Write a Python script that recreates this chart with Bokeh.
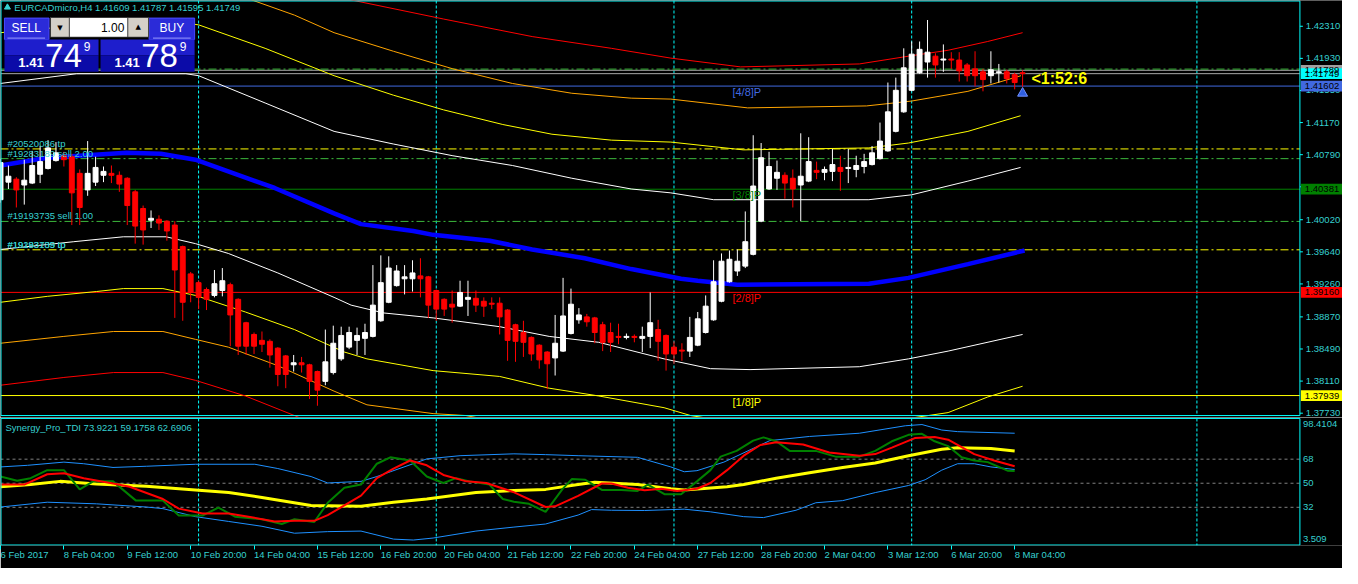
import numpy as np
from bokeh.plotting import figure
from bokeh.models import Range1d, FixedTicker, Label, ColumnDataSource
from bokeh.layouts import column
from bokeh.embed import file_html
from bokeh.resources import INLINE
from bokeh.core.properties import value

# ---------------- DATA ----------------
symbol_title = "EURCADmicro,H4  1.41609 1.41787 1.41595 1.41749"
tdi_title = "Synergy_Pro_TDI 73.9221 59.1758 62.6906"

opens = [1.40257, 1.40465, 1.40500, 1.40431, 1.40454, 1.40558, 1.40627, 1.40720, 1.40777, 1.40766,
         1.40569, 1.40373, 1.40465, 1.40546, 1.40569, 1.40546, 1.40511, 1.40350, 1.40153, 1.40014,
         1.40026, 1.40003, 1.39957, 1.39702, 1.39379, 1.39275, 1.39194, 1.39124, 1.39182, 1.39251,
         1.39078, 1.38801, 1.38662, 1.38592, 1.38581, 1.38500, 1.38408, 1.38303, 1.38327, 1.38303,
         1.38223, 1.38107, 1.38211, 1.38373, 1.38512, 1.38592, 1.38616, 1.38639, 1.38824, 1.39043,
         1.39240, 1.39321, 1.39321, 1.39355, 1.39344, 1.39182, 1.39078, 1.39020, 1.38997, 1.39078,
         1.39090, 1.39055, 1.39032, 1.39032, 1.38951, 1.38777, 1.38685, 1.38627, 1.38535, 1.38454,
         1.38384, 1.38465, 1.38673, 1.38835, 1.38870, 1.38858, 1.38777, 1.38685, 1.38639, 1.38627,
         1.38639, 1.38616, 1.38639, 1.38720, 1.38650, 1.38512, 1.38477, 1.38465, 1.38535, 1.38685,
         1.38835, 1.39055, 1.39286, 1.39413, 1.39471, 1.39610, 1.40003, 1.40384, 1.40511, 1.40546,
         1.40511, 1.40431, 1.40477, 1.40604, 1.40581, 1.40592, 1.40639, 1.40627, 1.40615, 1.40650,
         1.40673, 1.40743, 1.40835, 1.41066, 1.41297, 1.41552, 1.41760, 1.41887, 1.41956, 1.41910,
         1.41922, 1.41910, 1.41852, 1.41806, 1.41771, 1.41725, 1.41760, 1.41771, 1.41737, 1.41760]
highs = [1.40743, 1.40662, 1.40523, 1.40731, 1.40835, 1.40893, 1.40962, 1.40939, 1.40824, 1.40800,
         1.40615, 1.40951, 1.40766, 1.40650, 1.40662, 1.40592, 1.40523, 1.40373, 1.40188, 1.40130,
         1.40072, 1.40014, 1.40003, 1.39714, 1.39402, 1.39298, 1.39217, 1.39425, 1.39448, 1.39275,
         1.39090, 1.38812, 1.38685, 1.38697, 1.38604, 1.38512, 1.38419, 1.38419, 1.38396, 1.38315,
         1.38234, 1.38720, 1.38766, 1.38754, 1.38754, 1.38743, 1.38789, 1.39483, 1.39598, 1.39587,
         1.39483, 1.39483, 1.39540, 1.39564, 1.39355, 1.39194, 1.39090, 1.39182, 1.39298, 1.39298,
         1.39182, 1.39101, 1.39101, 1.39101, 1.38962, 1.38789, 1.38824, 1.38639, 1.38546, 1.38465,
         1.38893, 1.39332, 1.39205, 1.38974, 1.38905, 1.38870, 1.38812, 1.38801, 1.38789, 1.38673,
         1.38662, 1.38754, 1.39159, 1.38835, 1.38662, 1.38581, 1.38558, 1.38870, 1.38928, 1.39124,
         1.39540, 1.39621, 1.39656, 1.39668, 1.40118, 1.41020, 1.40928, 1.40824, 1.40720, 1.40581,
         1.40615, 1.41043, 1.40997, 1.40708, 1.40650, 1.40858, 1.40777, 1.40858, 1.40777, 1.40800,
         1.40893, 1.41170, 1.41644, 1.41702, 1.42049, 1.42130, 1.42130, 1.42384, 1.41991, 1.42095,
         1.42003, 1.42003, 1.41875, 1.42014, 1.41806, 1.42014, 1.41864, 1.41795, 1.41760, 1.41787]
lows = [1.40222, 1.40384, 1.40165, 1.40199, 1.40442, 1.40454, 1.40615, 1.40708, 1.40650, 1.39957,
        1.39957, 1.40303, 1.40419, 1.40465, 1.40454, 1.40350, 1.39957, 1.39737, 1.39725, 1.39922,
        1.39899, 1.39772, 1.38858, 1.38824, 1.39043, 1.38962, 1.38951, 1.39101, 1.39113, 1.38523,
        1.38419, 1.38419, 1.38431, 1.38454, 1.38269, 1.38049, 1.38026, 1.38223, 1.38211, 1.37899,
        1.37818, 1.38061, 1.38188, 1.38350, 1.38488, 1.38419, 1.38419, 1.38627, 1.38812, 1.39032,
        1.39228, 1.39136, 1.39170, 1.39101, 1.38858, 1.38824, 1.38881, 1.38801, 1.38986, 1.38881,
        1.38928, 1.38870, 1.38962, 1.38662, 1.38350, 1.38338, 1.38396, 1.38350, 1.38257, 1.38014,
        1.38176, 1.38454, 1.38662, 1.38789, 1.38754, 1.38558, 1.38465, 1.38454, 1.38546, 1.38604,
        1.38569, 1.38454, 1.38500, 1.38350, 1.38234, 1.38315, 1.38350, 1.38396, 1.38523, 1.38673,
        1.38824, 1.39043, 1.39275, 1.39355, 1.39448, 1.39598, 1.39991, 1.40373, 1.40373, 1.40269,
        1.40165, 1.40003, 1.40465, 1.40500, 1.40488, 1.40477, 1.40361, 1.40454, 1.40523, 1.40569,
        1.40662, 1.40731, 1.40824, 1.41054, 1.41286, 1.41540, 1.41748, 1.41702, 1.41702, 1.41771,
        1.41806, 1.41656, 1.41656, 1.41598, 1.41540, 1.41633, 1.41644, 1.41633, 1.41563, 1.41595]
closes = [1.40696, 1.40535, 1.40373, 1.40488, 1.40662, 1.40708, 1.40870, 1.40812, 1.40731, 1.40338,
          1.40165, 1.40569, 1.40639, 1.40592, 1.40546, 1.40442, 1.40188, 1.39945, 1.39899, 1.40037,
          1.39980, 1.39887, 1.39425, 1.39043, 1.39159, 1.39101, 1.39078, 1.39263, 1.39298, 1.38893,
          1.38523, 1.38523, 1.38523, 1.38546, 1.38419, 1.38188, 1.38188, 1.38327, 1.38303, 1.38107,
          1.38003, 1.38338, 1.38558, 1.38650, 1.38685, 1.38650, 1.38685, 1.39009, 1.39275, 1.39448,
          1.39413, 1.39344, 1.39390, 1.39321, 1.39009, 1.38962, 1.38962, 1.38986, 1.39159, 1.39101,
          1.39009, 1.38997, 1.39020, 1.38870, 1.38592, 1.38581, 1.38569, 1.38431, 1.38361, 1.38315,
          1.38558, 1.38881, 1.39020, 1.38893, 1.38812, 1.38685, 1.38569, 1.38569, 1.38627, 1.38639,
          1.38627, 1.38639, 1.38801, 1.38581, 1.38431, 1.38431, 1.38465, 1.38627, 1.38847, 1.38997,
          1.39286, 1.39529, 1.39552, 1.39529, 1.39760, 1.40419, 1.40754, 1.40650, 1.40581, 1.40454,
          1.40384, 1.40535, 1.40708, 1.40581, 1.40615, 1.40673, 1.40592, 1.40639, 1.40662, 1.40708,
          1.40812, 1.40951, 1.41297, 1.41552, 1.41818, 1.41980, 1.42037, 1.42003, 1.41852, 1.41922,
          1.41910, 1.41783, 1.41725, 1.41725, 1.41679, 1.41795, 1.41771, 1.41690, 1.41644, 1.41749]

ma_x = [0, 5.9, 15.9, 20.25, 24.6, 34.6, 42.1, 45.5, 52.1, 54.6, 61.75, 67.1, 73.75, 79.6, 85.9, 88, 93, 109.6, 114.6, 122.1, 129.25]
ma_y = [1.40662, 1.40754, 1.40812, 1.40800, 1.40731, 1.40396, 1.40095, 1.39968, 1.39887, 1.39841, 1.39772,
        1.39668, 1.39564, 1.39436, 1.39321, 1.39298, 1.39251, 1.39263, 1.39332, 1.39494, 1.39656]
white_up_x = [0, 9.6, 23.4, 25, 33.4, 42.1, 49.6, 57.1, 64.6, 72.1, 79.6, 84.6, 90, 109.6, 115, 122.1, 128.75]
white_up_y = [1.41633, 1.41748, 1.41748, 1.41725, 1.41402, 1.41066, 1.40916, 1.40777, 1.40662, 1.40511,
              1.40384, 1.40338, 1.40257, 1.40257, 1.40315, 1.40477, 1.40639]
yellow_up_x = [0, 12.1, 22.1, 25, 33.4, 42.1, 49.6, 55.9, 63.4, 69.6, 77.1, 84.6, 93.75, 109.6, 114.6, 122.1, 128.75]
yellow_up_y = [1.42234, 1.42338, 1.42361, 1.42327, 1.42049, 1.41725, 1.41494, 1.41321, 1.41147, 1.41032,
               1.40962, 1.40939, 1.40847, 1.40870, 1.40928, 1.41066, 1.41251]
orange_up_x = [27.1, 31.9, 37.1, 42.1, 49.6, 57.1, 64.6, 72.1, 79.6, 84.6, 94.3, 109.3, 115, 122.1, 128.8]
orange_up_y = [1.42823, 1.42615, 1.42442, 1.42234, 1.42014, 1.41806, 1.41633, 1.41517, 1.41459, 1.41448,
               1.41344, 1.41367, 1.41425, 1.41540, 1.41725]
red_up_x = [34.6, 44.6, 55.9, 67.1, 77.1, 84.6, 93.4, 108.4, 114.6, 119.6, 124.6, 129]
red_up_y = [1.42881, 1.42615, 1.42396, 1.42188, 1.42049, 1.41933, 1.41829, 1.41864, 1.41956, 1.42026, 1.42130, 1.42234]
white_lo_x = [0, 9.25, 15.5, 20.9, 24.6, 28.75, 35, 42.1, 44.25, 48.4, 54.6, 63, 69.25, 75.5, 83.75, 89.6, 94.6, 108.4, 114.6, 119.6, 129]
white_lo_y = [1.39668, 1.39760, 1.39818, 1.39818, 1.39737, 1.39621, 1.39390, 1.39101, 1.39009, 1.38916, 1.38858,
              1.38754, 1.38639, 1.38569, 1.38373, 1.38257, 1.38246, 1.38280, 1.38373, 1.38465, 1.38662]
yellow_lo_x = [0, 5.9, 12.1, 15.5, 20.5, 24.6, 30.9, 37.1, 43.4, 46.25, 54.6, 63, 69.25, 75.5, 83.75, 87.1, 93.4, 102.1, 112.1, 119.6, 124.6, 129]
yellow_lo_y = [1.39043, 1.39113, 1.39170, 1.39205, 1.39205, 1.39124, 1.38928, 1.38720, 1.38454, 1.38373, 1.38234,
               1.38165, 1.38026, 1.37934, 1.37795, 1.37702, 1.37610, 1.37587, 1.37633, 1.37737, 1.37922, 1.38049]
orange_lo_x = [0, 8, 14.25, 20.5, 24.6, 28.75, 35, 42.1, 46.25, 54.6, 58.75, 69.6, 87.1, 112.1, 129]
orange_lo_y = [1.38558, 1.38639, 1.38697, 1.38697, 1.38604, 1.38512, 1.38292, 1.37991, 1.37829, 1.37725,
               1.37702, 1.37506, 1.37332, 1.37390, 1.37564]
red_lo_x = [0, 8, 14.25, 20.5, 24.6, 30.9, 37.1, 49.6, 87.1, 129]
red_lo_y = [1.38061, 1.38153, 1.38211, 1.38211, 1.38119, 1.37934, 1.37702, 1.37217, 1.36870, 1.37101]

bid_price = 1.41749
ask_price = 1.41789
murrey_prices = [1.41602, 1.40381, 1.39160, 1.37939]
murrey_names = ["[4/8]P", "[3/8]P", "[2/8]P", "[1/8]P"]
trade_prices = [1.41803, 1.40858, 1.40743, 1.40000, 1.39664]
trade_kinds = ["order", "tp", "order", "order", "tp"]
trade_label_prices = [1.40858, 1.40743, 1.40000, 1.39664, 1.39664]
trade_label_texts = ["#20520086 tp", "#19283189 sell 2.00", "#19193735 sell 1.00", "#19193735 tp", "#19283189 tp"]
price_ticks = [1.42310, 1.41930, 1.41550, 1.41170, 1.40790, 1.40410, 1.40020, 1.39640, 1.39260,
               1.38870, 1.38490, 1.38110, 1.37730]
timer_text = "<1:52:6"
sell_price = ("1.41", "74", "9")
buy_price = ("1.41", "78", "9")
lot_text = "1.00"

tdi_up_x = [0, 3.4, 8, 10.5, 14.2, 18.4, 24.6, 32.1, 35, 39.2, 41.3, 45.5, 47.5, 53.8, 58, 64.8, 68.8, 72.9, 80.4, 84.6,
            86.3, 87.9, 91.3, 97.1, 102.1, 108.4, 114.2, 116.3, 118.8, 120.8, 128]
tdi_up_y = [62.2, 63.4, 65.8, 64.6, 61.8, 62.7, 64.2, 64.2, 61.0, 55.0, 50.2, 51.4, 55.0, 68.2, 70.6, 72.0, 71.4, 70.6, 69.4, 62.2,
            58.6, 59.4, 65.8, 81.9, 85.0, 87.4, 93.0, 93.9, 89.8, 88.6, 87.4]
tdi_lo_x = [0, 5.9, 12.1, 18.4, 20.5, 24.6, 28.8, 33, 37.1, 41.3, 45.5, 49.6, 52.1, 54.6, 60, 64.8, 68.8, 72.9, 74.6, 77.1,
            81.3, 86.3, 89.6, 93.8, 96.3, 100.4, 102.9, 106.3, 110.4, 114.6, 116.7, 118.8, 120.8, 122.9, 125, 128]
tdi_lo_y = [32.2, 35.8, 34.6, 32.2, 31.0, 25.0, 21.4, 17.8, 12.6, 13.8, 14.2, 8.2, 7.5, 9.0, 14.2, 17.2, 19.5, 26.2, 30.3, 29.8,
            29.6, 30.6, 28.6, 25.0, 24.3, 29.8, 35.4, 37.0, 43.0, 48.3, 52.6, 59.8, 64.6, 64.6, 62.2, 60.3]
tdi_base_x = [0, 3.8, 7.5, 12.1, 18.4, 24.6, 28.8, 33, 39.2, 45.5, 49.6, 53.8, 60, 64.8, 68.8, 72.9, 75, 80.4, 84.6, 86.3,
              91.7, 93.8, 97.9, 102.1, 106.3, 110.4, 114.6, 118.8, 120.8, 125, 128]
tdi_base_y = [47.4, 49.0, 51.4, 49.5, 47.8, 45.0, 43.0, 39.4, 33.4, 32.7, 35.8, 38.2, 43.0, 44.6, 45.4, 49.0, 50.7, 49.0, 45.9, 45.0,
              47.4, 49.0, 53.8, 57.9, 61.8, 65.1, 70.6, 75.4, 76.6, 75.9, 74.2]
tdi_sig_x = [0, 3, 5.9, 8, 10.5, 14.2, 16.3, 20.5, 22.5, 25.5, 28.8, 31.3, 34.6, 37.1, 39.6, 41.3, 43.4, 45.5, 47.5, 49.6,
             51.7, 53.8, 55.9, 58.8, 61.3, 64.7, 68.8, 70, 72.9, 75.9, 77.1, 79.2, 81.3, 83.4, 85.4, 87.9, 89.6, 91.7, 93.8, 95.9,
             97.9, 101.3, 104.6, 108.4, 110.4, 112.5, 115.4, 117.9, 119.6, 122.9, 125.4, 128]
tdi_sig_y = [49.0, 49.0, 56.7, 57.4, 53.8, 49.8, 47.4, 38.2, 31.0, 27.4, 27.4, 25.0, 21.4, 21.9, 21.9, 26.2, 33.4, 40.7, 53.8, 61.0,
             67.0, 63.4, 56.2, 51.4, 50.2, 43.5, 32.2, 32.7, 40.6, 49.8, 49.8, 46.6, 44.7, 45.9, 44.2, 45.9, 50.2, 59.8, 70.6, 78.6,
             80.7, 79.0, 73.0, 70.6, 71.8, 76.6, 83.8, 84.6, 82.6, 71.8, 67.0, 62.7]
tdi_rsi_x = [0, 2.1, 3.8, 5.9, 8, 10, 11.7, 14.2, 17.1, 20.5, 22.5, 25.5, 27.5, 29.6, 33, 35.5, 37.1, 39.6, 41.3, 43.4,
             45.5, 47.5, 49.2, 51.7, 53.8, 55.9, 57.5, 59.2, 61.7, 63.4, 64.8, 66.7, 68.8, 70.9, 72.1, 73.8, 75.9, 78.4, 80.4, 81.7,
             83.8, 85.9, 87.9, 89.6, 90.9, 92.9, 95, 96.3, 97.9, 99.6, 102.9, 105.4, 108.4, 110.4, 112.5, 114.6, 116.3, 117.9, 119.6, 121.3,
             122.9, 124.6, 127.1, 128]
tdi_rsi_y = [55.0, 51.9, 53.8, 59.8, 59.8, 45.4, 51.4, 51.4, 37.0, 37.0, 25.8, 25.8, 31.8, 25.0, 23.1, 19.5, 23.1, 21.0, 35.4, 46.6,
             49.0, 64.6, 69.4, 67.0, 55.0, 50.2, 53.8, 51.4, 49.0, 38.2, 36.2, 34.6, 28.6, 45.4, 53.1, 52.6, 45.0, 45.0, 44.2, 49.0,
             41.8, 41.8, 51.4, 59.8, 69.9, 74.2, 81.9, 84.3, 81.4, 74.2, 74.2, 69.9, 69.9, 74.2, 81.4, 86.2, 87.0, 81.4, 77.8, 69.4,
             67.0, 65.8, 59.4, 59.2]
tdi_levels = [68, 50, 32]
tdi_min, tdi_max = 3.509, 98.4104

time_labels = ["6 Feb 2017", "8 Feb 04:00", "9 Feb 12:00", "10 Feb 20:00", "14 Feb 04:00", "15 Feb 12:00",
               "16 Feb 20:00", "20 Feb 04:00", "21 Feb 12:00", "22 Feb 20:00", "24 Feb 04:00", "27 Feb 12:00",
               "28 Feb 20:00", "2 Mar 04:00", "3 Mar 12:00", "6 Mar 20:00", "8 Mar 04:00"]
time_label_bars = [0, 8, 16, 24, 32, 40, 48, 56, 64, 72, 80, 88, 96, 104, 112, 120, 128]
grid_bars = [25, 55, 85, 115, 151]

# ---------------- STYLE / LAYOUT ----------------
TXT = "#36d0d0"
CYAN = "#00ffff"
FONT = "Liberation Sans"
W, H1, H2 = 1342, 417, 151
X_END = 169.375          # bar index at the right edge of the window
FRAME_R = 164.0          # bar index at the chart frame's right edge
PX = 0.0001156           # price per reference pixel
P_LO, P_HI = 1.37679, 1.42615
V_LO, V_HI = 3.42, 99.18


def base_fig(height, y_range, ry, bottom=0, xr=None):
    f = figure(width=W, height=height, x_range=xr if xr is not None else Range1d(0, X_END), y_range=y_range,
               output_backend="svg", toolbar_location=None, y_axis_location=None,
               x_axis_location="below" if bottom else None,
               min_border_left=0, min_border_right=0, min_border_top=0, min_border_bottom=bottom)
    f.background_fill_color = "black"
    f.border_fill_color = "black"
    f.outline_line_color = None
    f.grid.visible = False
    f.extra_x_ranges = {"rx": Range1d(3, 1358)}
    f.extra_y_ranges = {"ry": ry}
    return f


def lab(fig, x, y, text, color, size, yr="ry", align="left", baseline="middle", style="normal", font=FONT):
    kw = dict(x=x, y=y, text=text, text_color=color, text_font_size=f"{size}px", text_align=align,
              text_baseline=baseline, text_font_style=style, text_font=font, x_range_name="rx")
    if yr is not None:
        kw["y_range_name"] = yr
    fig.add_layout(Label(**kw))


def box(fig, left, right, top, bottom, color, line=None):
    fig.quad(left=left, right=right, top=top, bottom=bottom, fill_color=color,
             line_color=line, x_range_name="rx", y_range_name="ry")


def frame(fig, top, bot):
    fig.segment(x0=[3.5, 3.5, 3.5, 1315], y0=[top, bot, top, top], x1=[1315, 1315, 3.5, 1315],
                y1=[top, bot, bot, bot], line_color=CYAN, line_width=1, x_range_name="rx", y_range_name="ry")


# ---------------- MAIN PANEL ----------------
p = base_fig(H1, Range1d(P_LO, P_HI), Range1d(430, 3))

# grid verticals
p.segment(x0=grid_bars, x1=grid_bars, y0=[3] * len(grid_bars), y1=[428] * len(grid_bars),
          line_color=CYAN, line_dash="3 2", line_width=1, y_range_name="ry")

# horizontal lines
hl_prices = [ask_price, bid_price] + murrey_prices
mm_colors = ["#4169e1", "#008000", "#ff0000", "#ffff00"]
hl_colors = ["#a8a8a8", "#a8a8a8"] + mm_colors
p.segment(x0=[0] * len(hl_prices), x1=[FRAME_R] * len(hl_prices), y0=hl_prices, y1=hl_prices,
          line_color=hl_colors, line_width=1)
tr_colors = ["#ffff00" if k == "tp" else "#3cb83c" for k in trade_kinds]
p.segment(x0=[0] * len(trade_prices), x1=[FRAME_R] * len(trade_prices), y0=trade_prices, y1=trade_prices,
          line_color=tr_colors, line_width=1, line_dash="8 3 2 3")

# bands
for xs, ys, col in [(red_up_x, red_up_y, "#ff0000"), (orange_up_x, orange_up_y, "#ffa500"),
                    (yellow_up_x, yellow_up_y, "#ffff00"), (white_up_x, white_up_y, "#ffffff"),
                    (white_lo_x, white_lo_y, "#ffffff"), (yellow_lo_x, yellow_lo_y, "#ffff00"),
                    (orange_lo_x, orange_lo_y, "#ffa500"), (red_lo_x, red_lo_y, "#ff0000")]:
    p.line(xs, ys, line_color=col, line_width=1)
p.line(ma_x, ma_y, line_color="#0000ff", line_width=4.5)

# candles
o = np.array(opens); c = np.array(closes); h = np.array(highs); l = np.array(lows)
bars = np.arange(len(o))
colors = np.where(c >= o, "#ffffff", "#ff0000")
src = ColumnDataSource(dict(x=bars, h=h, l=l, top=np.maximum(o, c), bot=np.minimum(o, c), col=colors))
p.segment(x0="x", y0="l", x1="x", y1="h", line_color="col", line_width=1, source=src)
p.vbar(x="x", width=0.62, top="top", bottom="bot", fill_color="col", line_color="col", line_width=1, source=src)

# black strip covering the axis area (chart drawn only inside the frame)
box(p, 1315.5, 1358, 3, 430, "black")
frame(p, 3.5, 428)

# price scale on the right
p.segment(x0=[1315] * len(price_ticks), x1=[1318] * len(price_ticks), y0=price_ticks, y1=price_ticks,
          line_color=CYAN, line_width=1, x_range_name="rx")
p.text(x=[1321] * len(price_ticks), y=price_ticks, text=[f"{t:.5f}" for t in price_ticks],
       text_color=TXT, text_font=value(FONT), text_font_size="9.5px", text_baseline="middle",
       text_align="left", x_range_name="rx")
bx_prices = [ask_price, bid_price] + murrey_prices
bx_colors = ["#a0a0a0", "#00ffff"] + mm_colors
BH = 5.5 * PX
p.quad(left=[1316] * len(bx_prices), right=[1358] * len(bx_prices),
       top=[v + BH for v in bx_prices], bottom=[v - BH for v in bx_prices],
       fill_color=bx_colors, line_color=None, x_range_name="rx")
p.text(x=[1320] * len(bx_prices), y=bx_prices, text=[f"{v:.5f}" for v in bx_prices],
       text_color="#000000", text_font=value(FONT), text_font_size="9.5px", text_baseline="middle",
       text_align="left", x_range_name="rx")

# title
p.scatter([10], [10], marker="triangle", size=6, fill_color=TXT, line_color=TXT, x_range_name="rx", y_range_name="ry")
lab(p, 17, 10, symbol_title, TXT, 9.5)

# one click trading panel
box(p, 7, 52, 21, 43, "#2b2bd8", "#4a4aff")
box(p, 153, 199, 21, 43, "#2b2bd8", "#4a4aff")
box(p, 7, 102, 43, 59, "#1e1ecc")
box(p, 7, 102, 59, 76, "#0b0ba8")
box(p, 104, 199, 43, 59, "#1e1ecc")
box(p, 104, 199, 59, 76, "#0b0ba8")
box(p, 53, 153, 20, 41, "#3a3a3a")
box(p, 54, 72, 21, 40, "#d4d0c8")
box(p, 73, 131, 21, 40, "#ffffff")
box(p, 132, 152, 21, 40, "#d4d0c8")
p.segment(x0=[10, 157], y0=[41.5, 41.5], x1=[48, 195], y1=[41.5, 41.5], line_color="#9a9aff",
          line_width=1, x_range_name="rx", y_range_name="ry")
lab(p, 63, 31, "▼", "#000000", 7, align="center", font="DejaVu Sans")
lab(p, 142, 30, "▲", "#000000", 7, align="center", font="DejaVu Sans")
lab(p, 128, 31, lot_text, "#000000", 12, align="right")
lab(p, 29, 31, "SELL", "#ffffff", 12, align="center")
lab(p, 176, 31, "BUY", "#ffffff", 12, align="center")
for x0, parts in [(21, sell_price), (118, buy_price)]:
    lab(p, x0, 66, parts[0], "#ffffff", 13, style="bold")
    lab(p, x0 + 27, 59, parts[1], "#ffffff", 33)
    lab(p, x0 + 66, 50, parts[2], "#ffffff", 12)

# trade labels
for pr, t in zip(trade_label_prices, trade_label_texts):
    lab(p, 10, pr, t, TXT, 9.5, yr=None, baseline="bottom")

# murrey labels
for pr, t, col in zip(murrey_prices, murrey_names, mm_colors):
    lab(p, 742, pr, t, col, 11, yr=None, baseline="top")

# timer and arrow
lab(p, 1044, 83, timer_text, "#ffff00", 16, style="bold")
p.scatter([1035], [98], marker="triangle", size=10, fill_color="#2f5fe0", line_color="#6f8fff",
          x_range_name="rx", y_range_name="ry")

# ---------------- TDI PANEL ----------------
p2 = base_fig(H2, Range1d(V_LO, V_HI), Range1d(563, 430), bottom=21, xr=p.x_range)

p2.segment(x0=grid_bars, x1=grid_bars, y0=[431] * len(grid_bars), y1=[563] * len(grid_bars),
           line_color=CYAN, line_dash="3 2", line_width=1, y_range_name="ry")
p2.segment(x0=[0] * 3, x1=[FRAME_R] * 3, y0=tdi_levels, y1=tdi_levels, line_color="#808080",
           line_dash="3 3", line_width=1)

p2.line(tdi_up_x, tdi_up_y, line_color="#1e90ff", line_width=1)
p2.line(tdi_lo_x, tdi_lo_y, line_color="#1e90ff", line_width=1)
p2.line(tdi_base_x, tdi_base_y, line_color="#ffff00", line_width=3)
p2.line(tdi_rsi_x, tdi_rsi_y, line_color="#008000", line_width=2)
p2.line(tdi_sig_x, tdi_sig_y, line_color="#ff0000", line_width=2)

frame(p2, 431, 562.5)

p2.text(x=[1318] * 3, y=tdi_levels, text=[str(v) for v in tdi_levels], text_color=TXT,
        text_font=value(FONT), text_font_size="9.5px", text_baseline="middle", text_align="left", x_range_name="rx")
p2.text(x=[1318, 1318], y=[437, 556], text=[f"{tdi_max:.4f}", f"{tdi_min:.3f}"], text_color=TXT,
        text_font=value(FONT), text_font_size="9.5px", text_baseline="middle", text_align="left",
        x_range_name="rx", y_range_name="ry")
lab(p2, 8, 440, tdi_title, TXT, 9.5)

xa = p2.xaxis[0]
xa.ticker = FixedTicker(ticks=time_label_bars)
xa.major_label_overrides = {b: t for b, t in zip(time_label_bars, time_labels)}
xa.major_label_orientation = -0.0001
xa.major_label_text_color = TXT
xa.major_label_text_font = FONT
xa.major_label_text_font_size = "9.5px"
xa.major_label_standoff = 5
xa.major_tick_line_color = CYAN
xa.major_tick_out = 4
xa.major_tick_in = 0
xa.minor_tick_line_color = None
xa.axis_line_color = None

layout = column(p, p2, spacing=0)
html = file_html(layout, INLINE, title="EURCADmicro,H4")
html = html.replace("<body>", '<body style="background-color:#000000;">', 1)
open("out.html", "w").write(html)
